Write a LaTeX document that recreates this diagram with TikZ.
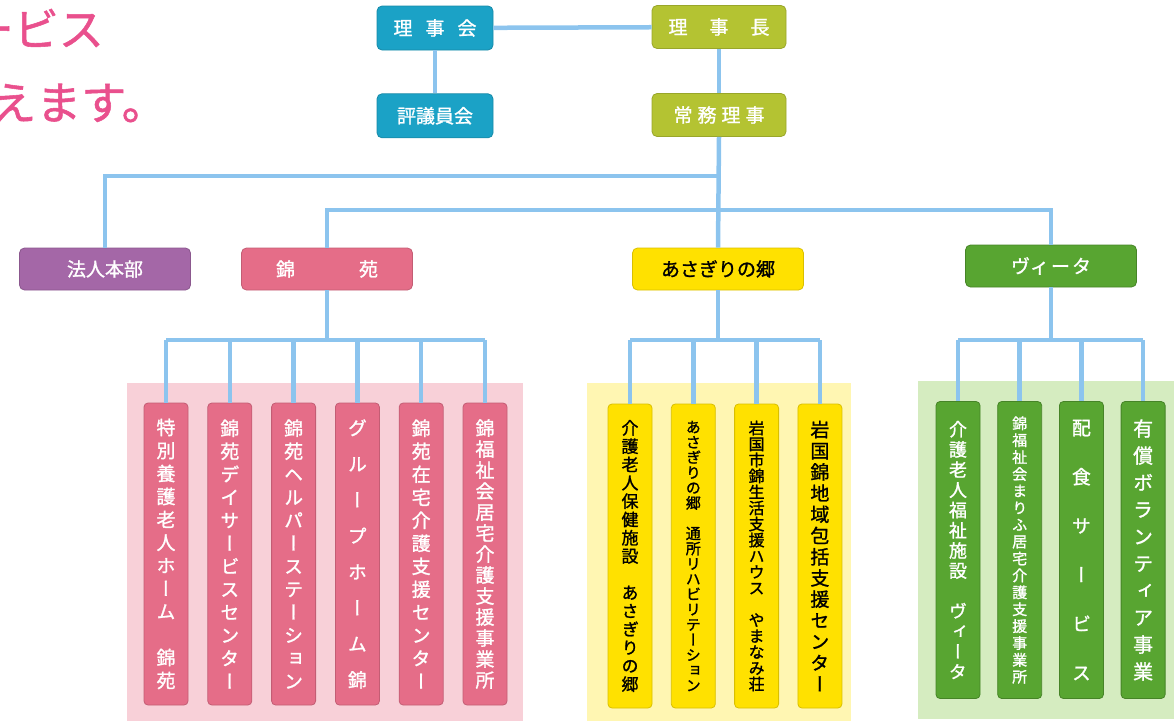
\documentclass[tikz,border=0pt]{standalone}
\usepackage{fontspec}
\newfontfamily\jpfont[FakeBold=1.2]{Noto Sans CJK JP}
\newfontfamily\vfont[RawFeature=+vert, FakeBold=1.2]{Noto Sans CJK JP}
\usetikzlibrary{positioning}

\definecolor{linkblue}{HTML}{8CC4EE}
\definecolor{cyanbox}{HTML}{1BA2C6}
\definecolor{olivebox}{HTML}{B4C332}
\definecolor{purplebox}{HTML}{A467A7}
\definecolor{pinkbox}{HTML}{E56D88}
\definecolor{pinkpanel}{HTML}{F8D0D8}
\definecolor{yellowbox}{HTML}{FFE100}
\definecolor{yellowpanel}{HTML}{FFF6B2}
\definecolor{greenbox}{HTML}{58A531}
\definecolor{greenpanel}{HTML}{D5ECC0}
\definecolor{pinktext}{HTML}{E9508D}

% stack the characters of a string one above the other
\makeatletter
\newcommand\vt[1]{\expandafter\@vt#1\@nil}
\def\@vt#1#2\@nil{#1\ifx\relax#2\relax\expandafter\@gobble\else\expandafter\@firstofone\fi{\\\@vt#2\@nil}}
\makeatother
\newcommand\vsz[2]{\vfont\fontsize{#1}{#2}\selectfont}

\tikzset{
  link/.style={draw=linkblue, line width=4.5pt},
  unit/.style={rounded corners=5pt, line width=0.8pt, inner sep=0pt,
    font=\jpfont\fontsize{19}{19}\selectfont},
  board/.style={unit, fill=cyanbox, draw=cyanbox!85!black, text=white,
    minimum width=116pt, minimum height=44pt},
  chief/.style={unit, fill=olivebox, draw=olivebox!85!black, text=white,
    minimum width=134pt, minimum height=43pt},
  branch/.style={unit, minimum width=171pt, minimum height=42pt},
  col/.style={rounded corners=4pt, line width=0.8pt, inner sep=0pt, align=center,
    minimum width=44pt},
  pinkcol/.style={col, fill=pinkbox, draw=pinkbox!85!black, text=white, minimum height=302pt},
  yellowcol/.style={col, fill=yellowbox, draw=yellowbox!85!black, text=black, minimum height=304pt},
  greencol/.style={col, fill=greenbox, draw=greenbox!80!black, text=white, minimum height=297pt}
}

\begin{document}
\begin{tikzpicture}[x=1pt, y=-1pt]
  \useasboundingbox (0,0) rectangle (1174,721);

  % catch copy, cut at the left edge as in the page it comes from
  \node[font=\jpfont\fontsize{45}{45}\selectfont, text=pinktext, anchor=east, inner sep=0pt] (copy1) at (104,28) {ービス};
  \node[font=\jpfont\fontsize{45}{45}\selectfont, text=pinktext, anchor=east, inner sep=0pt] (copy2) at (167,103) {えます。};

  % group panels
  \fill[pinkpanel] (127,383) rectangle (523,721);
  \fill[yellowpanel] (587,383) rectangle (851,721);
  \fill[greenpanel] (918,381) rectangle (1174,719);

  % top
  \node[board] (rijikai) at (435,28) {理\hspace{13pt}事\hspace{13pt}会};
  \node[board, below=43pt of rijikai] (hyogiin) {評議員会};
  \node[chief] (rijicho) at (719,27) {理\hspace{22pt}事\hspace{22pt}長};
  \node[chief] (jomu) at (719,115) {常\hspace{5pt}務\hspace{5pt}理\hspace{5pt}事};

  % branches
  \node[branch, fill=purplebox, draw=purplebox!85!black, text=white] (honbu) at (105,269) {法人本部};
  \node[branch, fill=pinkbox, draw=pinkbox!85!black, text=white] (kinen) at (327,269) {錦\hspace{64pt}苑};
  \node[branch, fill=yellowbox, draw=yellowbox!85!black, text=black] (asagiri) at (718,269) {あさぎりの郷};
  \node[branch, fill=greenbox, draw=greenbox!80!black, text=white] (vita) at (1051,266) {ヴィ\hspace{2pt}ー\hspace{2pt}タ};

  % facilities
  \foreach \txt/\sz/\b [count=\k] in {特別養護老人ホーム　錦苑/19/23, 錦苑デイサービスセンター/19/23,
      錦苑ヘルパーステーション/19/23, グループホーム錦/19/36, 錦苑在宅介護支援センター/19/23,
      錦福祉会居宅介護支援事業所/19/21}
    \node[pinkcol, font=\vsz{\sz}{\b}] (kc\k) at ({166+63.8*(\k-1)},554) {\vt{\txt}};
  \foreach \txt/\sz/\b [count=\k] in {介護老人保健施設　あさぎりの郷/17/18.3, あさぎりの郷　通所リハビリテーション/15/15.2,
      岩国市錦生活支援ハウス　やまなみ荘/16/16, 岩国錦地域包括支援センター/19/21.2}
    \node[yellowcol, font=\vsz{\sz}{\b}] (ac\k) at ({630+63.3*(\k-1)},556) {\vt{\txt}};
  \foreach \txt/\sz/\b [count=\k] in {介護老人福祉施設　ヴィータ/18/20.2, 錦福祉会まりふ居宅介護支援事業所/15/16.9,
      配食サービス/19/49, 有償ボランティア事業/20/27}
    \node[greencol, font=\vsz{\sz}{\b}] (vc\k) at ({958+61.7*(\k-1)},550) {\vt{\txt}};

  % connectors
  \coordinate (bus1) at (718,176);
  \coordinate (bus2) at (718,210);
  \coordinate (kbus) at (327,340);
  \coordinate (abus) at (718,340);
  \coordinate (vbus) at (1051,340);

  \draw[link] (rijikai) -- (rijicho);
  \draw[link] (rijikai) -- (hyogiin);
  \draw[link] (rijicho) -- (jomu);
  \draw[link] (jomu.south) -- (asagiri.north);
  \draw[link] (bus1) -| (honbu.north);
  \draw[link] (kinen.north) |- (bus2) -| (vita.north);

  \draw[link] (kinen.south) -- (kbus);
  \draw[link] (kc1.north |- kbus) -- (kc6.north |- kbus);
  \foreach \k in {1,...,6}
    \draw[link] (kc\k.north |- kbus) -- (kc\k.north);

  \draw[link] (asagiri.south) -- (abus);
  \draw[link] (ac1.north |- abus) -- (ac4.north |- abus);
  \foreach \k in {1,...,4}
    \draw[link] (ac\k.north |- abus) -- (ac\k.north);

  \draw[link] (vita.south) -- (vbus);
  \draw[link] (vc1.north |- vbus) -- (vc4.north |- vbus);
  \foreach \k in {1,...,4}
    \draw[link] (vc\k.north |- vbus) -- (vc\k.north);
\end{tikzpicture}
\end{document}
